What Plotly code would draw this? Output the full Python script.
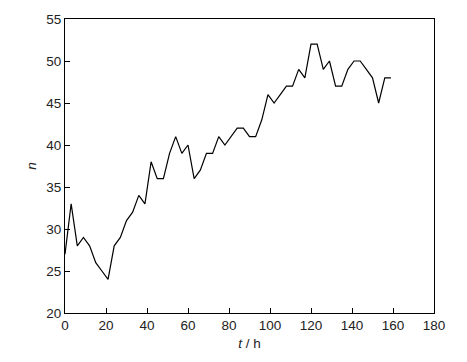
import plotly.graph_objects as go

t_hours = [0, 3, 6, 9, 12, 15, 18, 21, 24, 27, 30, 33, 36, 39, 42, 45, 48, 51, 54, 57,
           60, 63, 66, 69, 72, 75, 78, 81, 84, 87, 90, 93, 96, 99, 102, 105, 108, 111,
           114, 117, 120, 123, 126, 129, 132, 135, 138, 141, 144, 147, 150, 153, 156, 159]
n_values = [27, 33, 28, 29, 28, 26, 25, 24, 28, 29, 31, 32, 34, 33, 38, 36, 36, 39, 41, 39,
            40, 36, 37, 39, 39, 41, 40, 41, 42, 42, 41, 41, 43, 46, 45, 46, 47, 47,
            49, 48, 52, 52, 49, 50, 47, 47, 49, 50, 50, 49, 48, 45, 48, 48]

x_ticks = [0, 20, 40, 60, 80, 100, 120, 140, 160, 180]
y_ticks = [20, 25, 30, 35, 40, 45, 50, 55]

font_family = "Liberation Sans, Arial, sans-serif"

fig = go.Figure()
fig.add_trace(go.Scatter(x=t_hours, y=n_values, mode="lines",
                         line=dict(color="black", width=1.2), showlegend=False))

axis_common = dict(
    showline=True, linecolor="black", linewidth=1, mirror=True,
    showgrid=False, zeroline=False,
    ticks="inside", ticklen=5, tickwidth=1, tickcolor="black",
    tickfont=dict(family=font_family, size=13.5, color="#222"),
)

fig.update_layout(
    width=467, height=362,
    margin=dict(l=65, r=33, t=12, b=49),
    paper_bgcolor="white", plot_bgcolor="white",
    xaxis=dict(range=[0, 180], tickvals=x_ticks,
               title=dict(text="<i>t</i> / h", font=dict(family=font_family, size=13.5, color="#222"), standoff=6),
               **axis_common),
    yaxis=dict(range=[20, 55], tickvals=y_ticks,
               title=dict(text="<i>n</i>", font=dict(family=font_family, size=13.5, color="#222"), standoff=6),
               **axis_common),
)

fig.write_html("out.html")
